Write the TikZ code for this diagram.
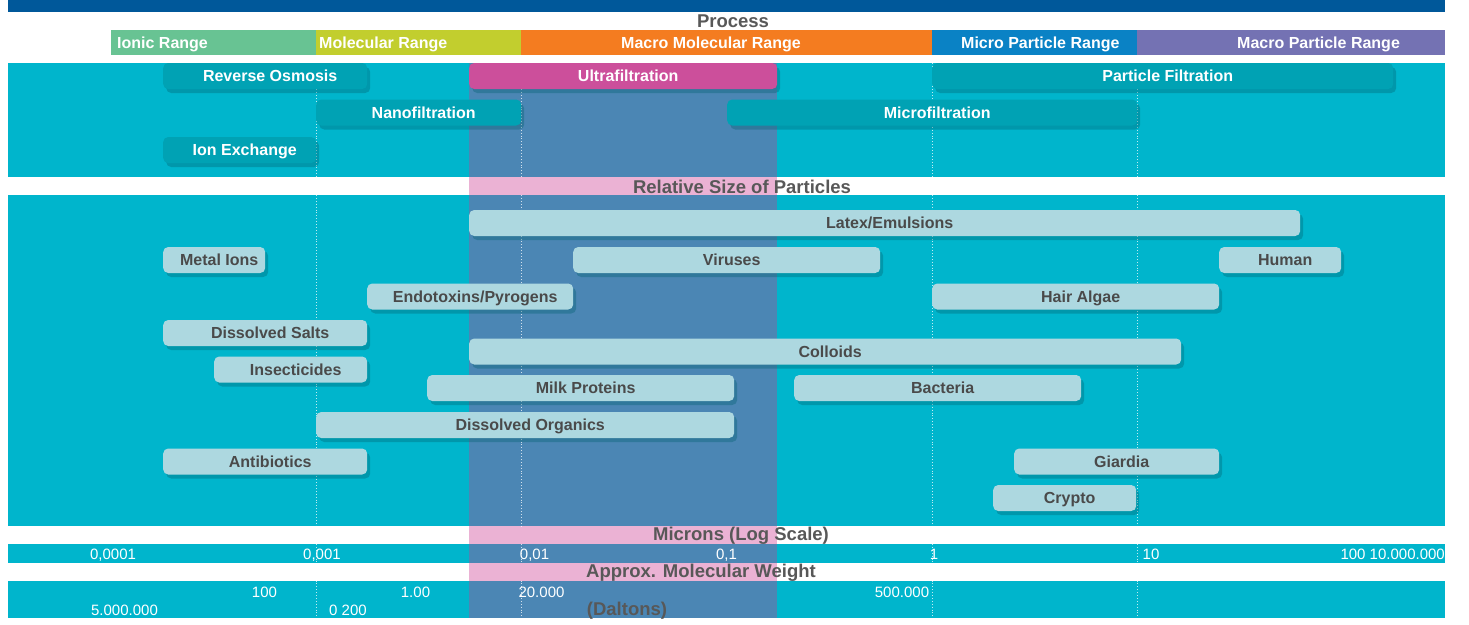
\documentclass[tikz,border=0pt]{standalone}
\usepackage{fontspec}
\setmainfont{Liberation Sans}
\usepackage{xcolor}
\usetikzlibrary{positioning, shadows}

\definecolor{topblue}{HTML}{00589A}
\definecolor{panelcyan}{HTML}{00B5CC}
\definecolor{procteal}{HTML}{00A2B4}
\definecolor{ultrapink}{HTML}{CC4F9B}
\definecolor{bandblue}{HTML}{4B86B4}
\definecolor{rowpink}{HTML}{EBB2D4}
\definecolor{sizeblue}{HTML}{ADD8E0}
\definecolor{bartext}{HTML}{4A4A4A}
\definecolor{headgray}{HTML}{585858}
\definecolor{ionicgreen}{HTML}{68C393}
\definecolor{molyellow}{HTML}{C2CE2E}
\definecolor{macroorange}{HTML}{F47C20}
\definecolor{microblue}{HTML}{0A82C5}
\definecolor{macropurple}{HTML}{7472B3}
\definecolor{shadowteal}{HTML}{00606E}

\tikzset{
    bar/.style={rectangle, rounded corners=5pt, minimum height=26pt, inner sep=0pt, anchor=west,
        text height=11.4pt, text depth=0pt, font=\fontsize{16}{18}\selectfont\bfseries,
        execute at begin node={\hspace*{10pt}},
        drop shadow={shadow xshift=3pt, shadow yshift=-4pt, opacity=0.35, fill=shadowteal}},
    procbar/.style={bar, fill=procteal, text=white},
    sizebar/.style={bar, fill=sizeblue, text=bartext},
    rangebox/.style={rectangle, minimum height=25pt, inner sep=0pt, anchor=west},
    rangetext/.style={text=white, inner sep=0pt, text height=11.4pt, text depth=0pt,
        font=\fontsize{16}{18}\selectfont\bfseries},
    header/.style={text=headgray, inner sep=0pt, anchor=base, font=\fontsize{18.5}{20}\selectfont\bfseries},
    tick/.style={text=white, inner sep=0pt, anchor=base, font=\fontsize{15}{17}\selectfont},
    gridline/.style={white, opacity=0.75, dotted, line width=0.9pt}
}

\begin{document}
\begin{tikzpicture}[x=1pt, y=-1pt]
    \useasboundingbox (0,0) rectangle (1469,624);
    \fill[topblue] (8,0) rectangle (1445,11.5);

    \node[header] (process) at (733,27) {Process};
    \node[rangebox, fill=ionicgreen, minimum width=205pt] (ionic) at (111,42.5) {};
    \node[rangebox, fill=molyellow, minimum width=205pt] (molecular) at (316,42.5) {};
    \node[rangebox, fill=macroorange, minimum width=411pt] (macromol) at (521,42.5) {};
    \node[rangebox, fill=microblue, minimum width=205pt] (micropart) at (932,42.5) {};
    \node[rangebox, fill=macropurple, minimum width=308pt] (macropart) at (1137,42.5) {};
    \node[rangetext, right=6pt] (ionicl) at (ionic.west) {Ionic Range};
    \node[rangetext, right=3pt] (molecularl) at (molecular.west) {Molecular Range};
    \node[rangetext, right=100pt] (macromoll) at (macromol.west) {Macro Molecular Range};
    \node[rangetext, right=29pt] (microl) at (micropart.west) {Micro Particle Range};
    \node[rangetext, right=100pt] (macropartl) at (macropart.west) {Macro Particle Range};

    \fill[panelcyan] (8,63) rectangle (1445,177);
    \fill[panelcyan] (8,195) rectangle (1445,526);
    \fill[panelcyan] (8,544) rectangle (1445,562.5);
    \fill[panelcyan] (8,580.5) rectangle (1445,617.5);
    \fill[bandblue] (469,63) rectangle (777,617.5);
    \fill[rowpink] (469,177) rectangle (777,195);
    \fill[rowpink] (469,526) rectangle (777,544);
    \fill[rowpink] (469,562.5) rectangle (777,580.5);
    \foreach \x in {316,521,932,1137}
        \foreach \ya/\yb in {63/177,195/526,544/562.5,580.5/617.5}
            \draw[gridline] (\x,\ya) -- (\x,\yb);

    \node[procbar, minimum width=204pt] (ro) at (163,76) {Reverse Osmosis};
    \node[procbar, fill=ultrapink, minimum width=308pt] (uf) at (469,76) {Ultrafiltration};
    \node[procbar, minimum width=461pt] (pf) at (932,76) {Particle Filtration};
    \node[procbar, minimum width=205pt] (nf) at (316,112.5) {Nanofiltration};
    \node[procbar, minimum width=410pt] (mf) at (727,112.5) {Microfiltration};
    \node[procbar, minimum width=153pt] (ix) at (163,150) {Ion Exchange};

    \node[header] (relsize) at (742,193) {Relative Size of Particles};
    \node[sizebar, minimum width=831pt] (latex) at (469,223) {Latex/Emulsions};
    \node[sizebar, minimum width=102pt] (metal) at (163,260) {Metal Ions};
    \node[sizebar, minimum width=307pt] (virus) at (573,260) {Viruses};
    \node[sizebar, minimum width=122pt] (human) at (1219,260) {Human};
    \node[sizebar, minimum width=206pt] (endo) at (367,296.5) {Endotoxins/Pyrogens};
    \node[sizebar, minimum width=287pt] (hair) at (932,296.5) {Hair Algae};
    \node[sizebar, minimum width=204pt] (salts) at (163,333) {Dissolved Salts};
    \node[sizebar, minimum width=712pt] (colloid) at (469,351.5) {Colloids};
    \node[sizebar, minimum width=153pt] (insect) at (214,369.5) {Insecticides};
    \node[sizebar, minimum width=307pt] (milk) at (427,388) {Milk Proteins};
    \node[sizebar, minimum width=287pt] (bact) at (794,388) {Bacteria};
    \node[sizebar, minimum width=418pt] (organic) at (316,425) {Dissolved Organics};
    \node[sizebar, minimum width=204pt] (antib) at (163,461.5) {Antibiotics};
    \node[sizebar, minimum width=205pt] (giardia) at (1014,461.5) {Giardia};
    \node[sizebar, minimum width=143pt] (crypto) at (993,498) {Crypto};

    \node[header] (microns) at (741,540.6) {Microns (Log Scale)};
    \node[tick] (m1) at (113,559.5) {0,0001};
    \node[tick] (m2) at (322,559.5) {0,001};
    \node[tick] (m3) at (534.5,559.5) {0,01};
    \node[tick] (m4) at (726.5,559.5) {0,1};
    \node[tick] (m5) at (934,559.5) {1};
    \node[tick] (m6) at (1151,559.5) {10};
    \node[tick, anchor=base east] (m7) at (1445,559.5) {100 10.000.000};

    \node[header] (weight) at (701,577.3) {Approx. Molecular Weight};
    \node[tick] (w1) at (264.5,597) {100};
    \node[tick] (w2) at (415.5,597) {1.00};
    \node[tick] (w3) at (541.5,597) {20.000};
    \node[tick] (w4) at (902,597) {500.000};
    \node[tick] (w5) at (124.5,615) {5.000.000};
    \node[tick] (w6) at (348,615) {0 200};
    \node[header] (daltons) at (627,615) {(Daltons)};
\end{tikzpicture}
\end{document}
